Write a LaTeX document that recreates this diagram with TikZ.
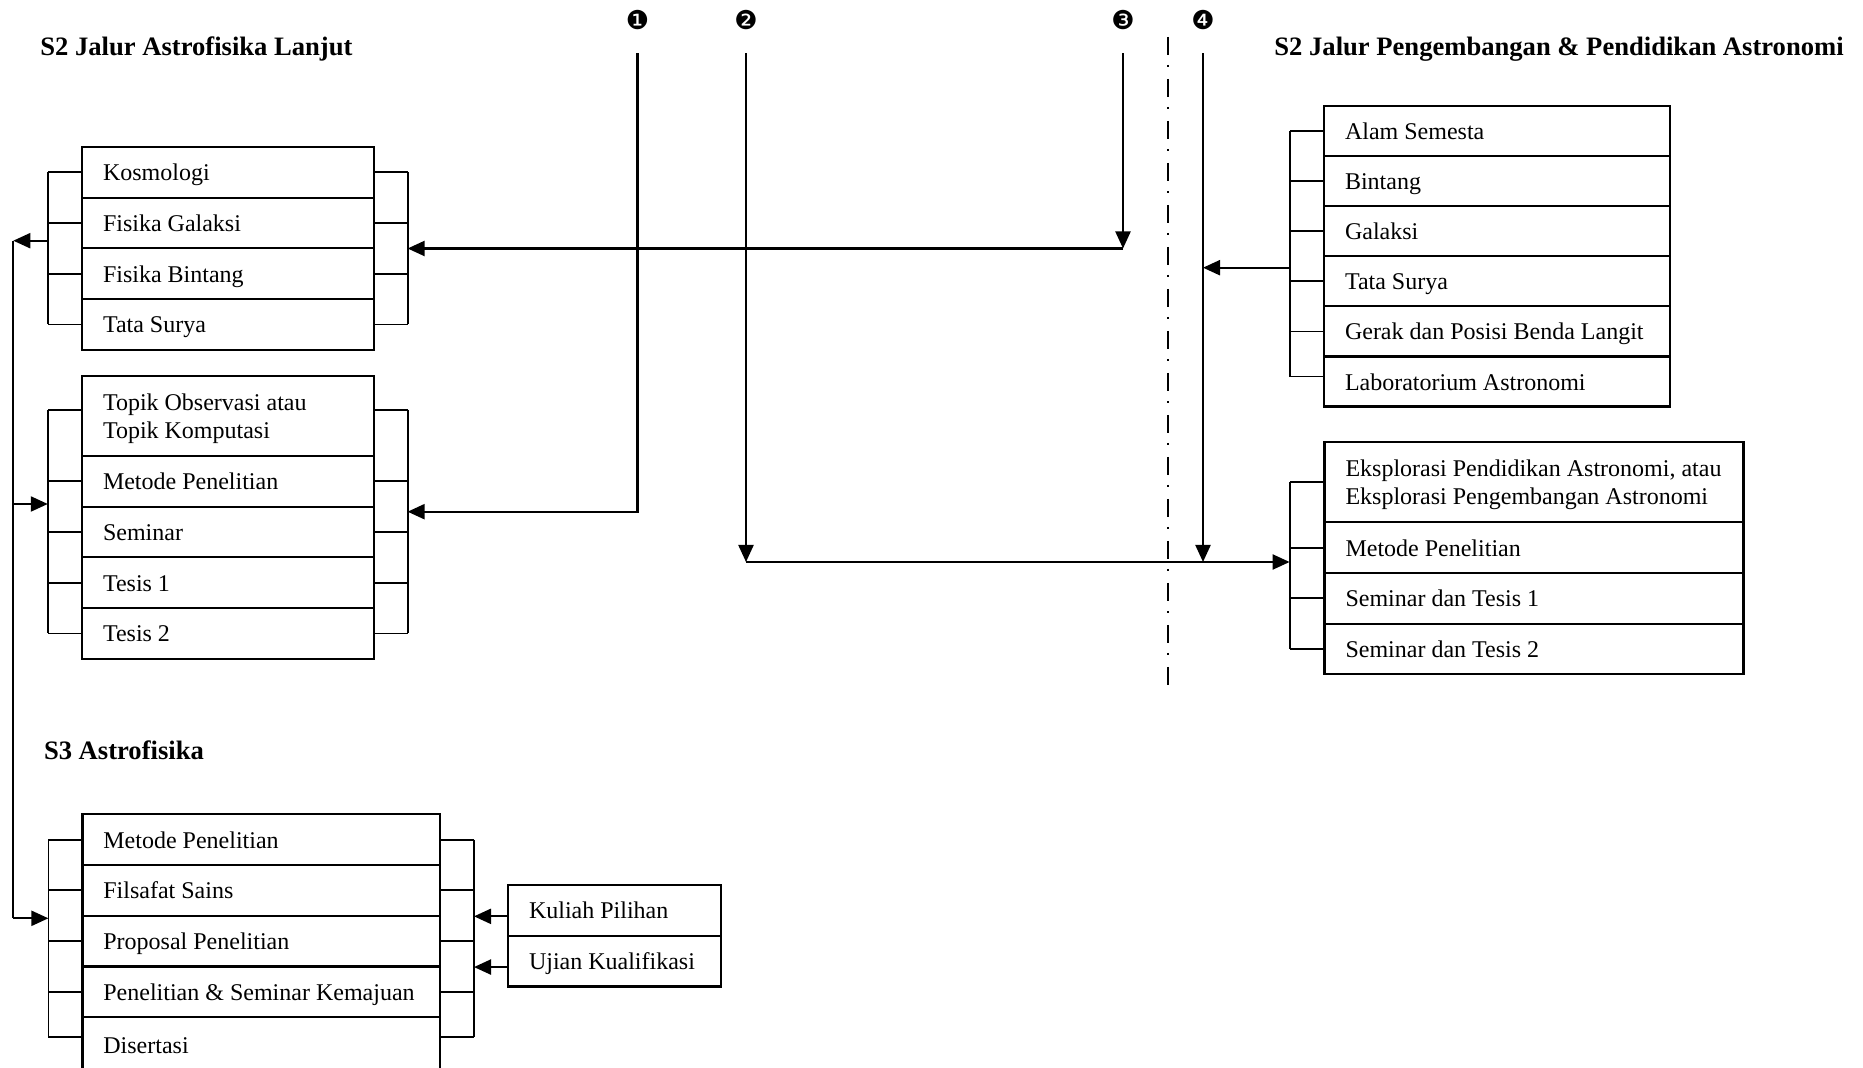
\documentclass[tikz,border=0pt]{standalone}
\usepackage{fontspec}
\setmainfont{Liberation Serif}
\newfontfamily\dejavu{DejaVu Sans}
\usetikzlibrary{arrows.meta,calc}
\begin{document}
\begin{tikzpicture}[x=0.5pt,y=-0.5pt,
  rowbox/.style={draw, line width=1.1pt, rectangle, anchor=north west, outer sep=0pt,
    inner xsep=10.5pt, inner ysep=0pt, align=flush left, font=\fontsize{12}{14}\selectfont},
  one/.style={text height=11pt, text depth=2.5pt},
  hstd/.style={minimum height=25.35pt},
  wA/.style={text width=125pt},
  wC/.style={text width=157.6pt},
  wR/.style={text width=152pt},
  wS/.style={text width=188.5pt},
  wK/.style={text width=85.5pt},
  ttl/.style={anchor=base west, inner sep=0pt, font=\fontsize{13.3}{15}\selectfont\bfseries},
  num/.style={inner sep=0pt, font=\dejavu\fontsize{13}{13}\selectfont},
  brk/.style={line width=0.9pt},
  conn/.style={line width=1.1pt},
  arr/.style={line width=1.1pt, -{Triangle[length=8.5pt,width=7.5pt]}},
  sep/.style={line width=0.9pt, dash pattern=on 9pt off 5pt on 1pt off 6pt},
]
\useasboundingbox (0,0) rectangle (1863,1068);
\clip (0,0) rectangle (1863,1068);

% titles
\node[ttl] (h1) at (40,56) {S2 Jalur Astrofisika Lanjut};
\node[ttl] (h2) at (1274,56) {S2 Jalur Pengembangan \& Pendidikan Astronomi};
\node[ttl] (h3) at (43.6,760) {S3 Astrofisika};

% numbers
\node[num] (n1) at (637.5,20) {❶};
\node[num] (n2) at (746,20) {❷};
\node[num] (n3) at (1123,20) {❸};
\node[num] (n4) at (1203,20) {❹};

% S2 Astrofisika: block A
\node[rowbox,wA,hstd,one] (a1) at (82,147) {Kosmologi};
\node[rowbox,wA,hstd,one] (a2) at (a1.south west) {Fisika Galaksi};
\node[rowbox,wA,hstd,one] (a3) at (a2.south west) {Fisika Bintang};
\node[rowbox,wA,hstd,one] (a4) at (a3.south west) {Tata Surya};

% block B
\node[rowbox,wA,minimum height=40pt] (b1) at (82,376) {\rule{0pt}{11pt}Topik Observasi atau\\Topik Komputasi};
\node[rowbox,wA,hstd,one] (b2) at (b1.south west) {Metode Penelitian};
\node[rowbox,wA,hstd,one] (b3) at (b2.south west) {Seminar};
\node[rowbox,wA,hstd,one] (b4) at (b3.south west) {Tesis 1};
\node[rowbox,wA,hstd,one] (b5) at (b4.south west) {Tesis 2};

% S3 block C
\node[rowbox,wC,hstd,one] (c1) at (82.4,814.3) {Metode Penelitian};
\node[rowbox,wC,hstd,one] (c2) at (c1.south west) {Filsafat Sains};
\node[rowbox,wC,hstd,one] (c3) at (c2.south west) {Proposal Penelitian};
\node[rowbox,wC,hstd,one] (c4) at (c3.south west) {\mbox{Penelitian \& Seminar Kemajuan}};
\node[rowbox,wC,minimum height=28pt,one] (c5) at (c4.south west) {Disertasi};

% small block K
\node[rowbox,wK,hstd,one] (k1) at (508,885) {Kuliah Pilihan};
\node[rowbox,wK,hstd,one] (k2) at (k1.south west) {Ujian Kualifikasi};

% right block R
\node[rowbox,wR,minimum height=25.05pt,one] (r1) at (1324,106) {Alam Semesta};
\node[rowbox,wR,minimum height=25.05pt,one] (r2) at (r1.south west) {Bintang};
\node[rowbox,wR,minimum height=25.05pt,one] (r3) at (r2.south west) {Galaksi};
\node[rowbox,wR,minimum height=25.05pt,one] (r4) at (r3.south west) {Tata Surya};
\node[rowbox,wR,minimum height=25.05pt,one] (r5) at (r4.south west) {\mbox{Gerak dan Posisi Benda Langit}};
\node[rowbox,wR,minimum height=25.05pt,one] (r6) at (r5.south west) {Laboratorium Astronomi};

% right block S
\node[rowbox,wS,minimum height=40.3pt] (s1) at (1324.5,441.7) {\rule{0pt}{11pt}\mbox{Eksplorasi Pendidikan Astronomi, atau}\\\mbox{Eksplorasi Pengembangan Astronomi}};
\node[rowbox,wS,hstd,one] (s2) at (s1.south west) {Metode Penelitian};
\node[rowbox,wS,hstd,one] (s3) at (s2.south west) {Seminar dan Tesis 1};
\node[rowbox,wS,hstd,one] (s4) at (s3.south west) {Seminar dan Tesis 2};

% bracket positions
\coordinate (LA) at (47.8,0);
\coordinate (RA) at (407.6,0);
\coordinate (LC) at (48.4,0);
\coordinate (RC) at (474,0);
\coordinate (LR) at (1289.6,0);

% brackets block A
\draw[brk] (a1.west -| LA) -- (a4.west -| LA);
\draw[brk] (a1.east -| RA) -- (a4.east -| RA);
\foreach \n in {a1,a2,a3,a4}{
  \draw[brk] (\n.west) -- (\n.west -| LA);
  \draw[brk] (\n.east) -- (\n.east -| RA);
}
% brackets block B
\draw[brk] ([yshift=3pt]b1.west -| LA) -- (b5.west -| LA);
\draw[brk] ([yshift=3pt]b1.east -| RA) -- (b5.east -| RA);
\draw[brk] ([yshift=3pt]b1.west) -- ([yshift=3pt]b1.west -| LA);
\draw[brk] ([yshift=3pt]b1.east) -- ([yshift=3pt]b1.east -| RA);
\foreach \n in {b2,b3,b4,b5}{
  \draw[brk] (\n.west) -- (\n.west -| LA);
  \draw[brk] (\n.east) -- (\n.east -| RA);
}
% brackets block C
\draw[brk] (c1.west -| LC) -- ([yshift=4pt]c5.west -| LC);
\draw[brk] (c1.east -| RC) -- ([yshift=4pt]c5.east -| RC);
\foreach \n in {c1,c2,c3,c4}{
  \draw[brk] (\n.west) -- (\n.west -| LC);
  \draw[brk] (\n.east) -- (\n.east -| RC);
}
\draw[brk] ([yshift=4pt]c5.west) -- ([yshift=4pt]c5.west -| LC);
\draw[brk] ([yshift=4pt]c5.east) -- ([yshift=4pt]c5.east -| RC);
% brackets block R
\draw[brk] (r1.west -| LR) -- ([yshift=2.5pt]r6.west -| LR);
\foreach \n in {r1,r2,r3,r4,r5}{
  \draw[brk] (\n.west) -- (\n.west -| LR);
}
\draw[brk] ([yshift=2.5pt]r6.west) -- ([yshift=2.5pt]r6.west -| LR);
% brackets block S
\draw[brk] (s1.west -| LR) -- (s4.west -| LR);
\foreach \n in {s1,s2,s3,s4}{
  \draw[brk] (\n.west) -- (\n.west -| LR);
}

% separator
\coordinate (d0) at (1168,37);
\coordinate (d1) at (1168,687);
\draw[sep] (d0) -- (d1);

% left spine
\coordinate (outA) at (47.8,240.7);
\coordinate (sp1) at (13.3,240.7);
\coordinate (sp2) at (13.3,918.3);
\coordinate (inB) at (47.8,504);
\coordinate (inC) at (48.4,918.3);
\draw[arr] (outA) -- (sp1);
\draw[conn] (sp1) -- (sp2);
\draw[arr] (sp1 |- inB) -- (inB);
\draw[arr] (sp2) -- (inC);

% numbered lines
\coordinate (t1) at (637.5,53.3);
\coordinate (t2) at (746,53.3);
\coordinate (t3) at (1123,53.3);
\coordinate (t4) at (1203,53.3);

% 1
\coordinate (inB2) at (407.6,511.7);
\draw[arr] (t1) |- (inB2);
% 2
\coordinate (j2) at (746,562);
\coordinate (inS) at (1289.6,562);
\draw[arr] (t2) -- (j2);
\draw[arr] (j2) -- (inS);
% 3
\coordinate (j3) at (1123,248.5);
\coordinate (inA) at (407.6,248.5);
\draw[arr] (t3) -- (j3);
\draw[arr] (j3) -- (inA);
% 4
\coordinate (j4) at (1203,562);
\coordinate (outR) at (1289.6,267.7);
\draw[arr] (t4) -- (j4);
\draw[arr] (outR) -- (outR -| t4);

% elective / qualification arrows
\draw[arr] ([yshift=-3pt]k1.west) -- ([yshift=-3pt]k1.west -| RC);
\draw[arr] ([yshift=-3pt]k2.west) -- ([yshift=-3pt]k2.west -| RC);
\end{tikzpicture}
\end{document}
